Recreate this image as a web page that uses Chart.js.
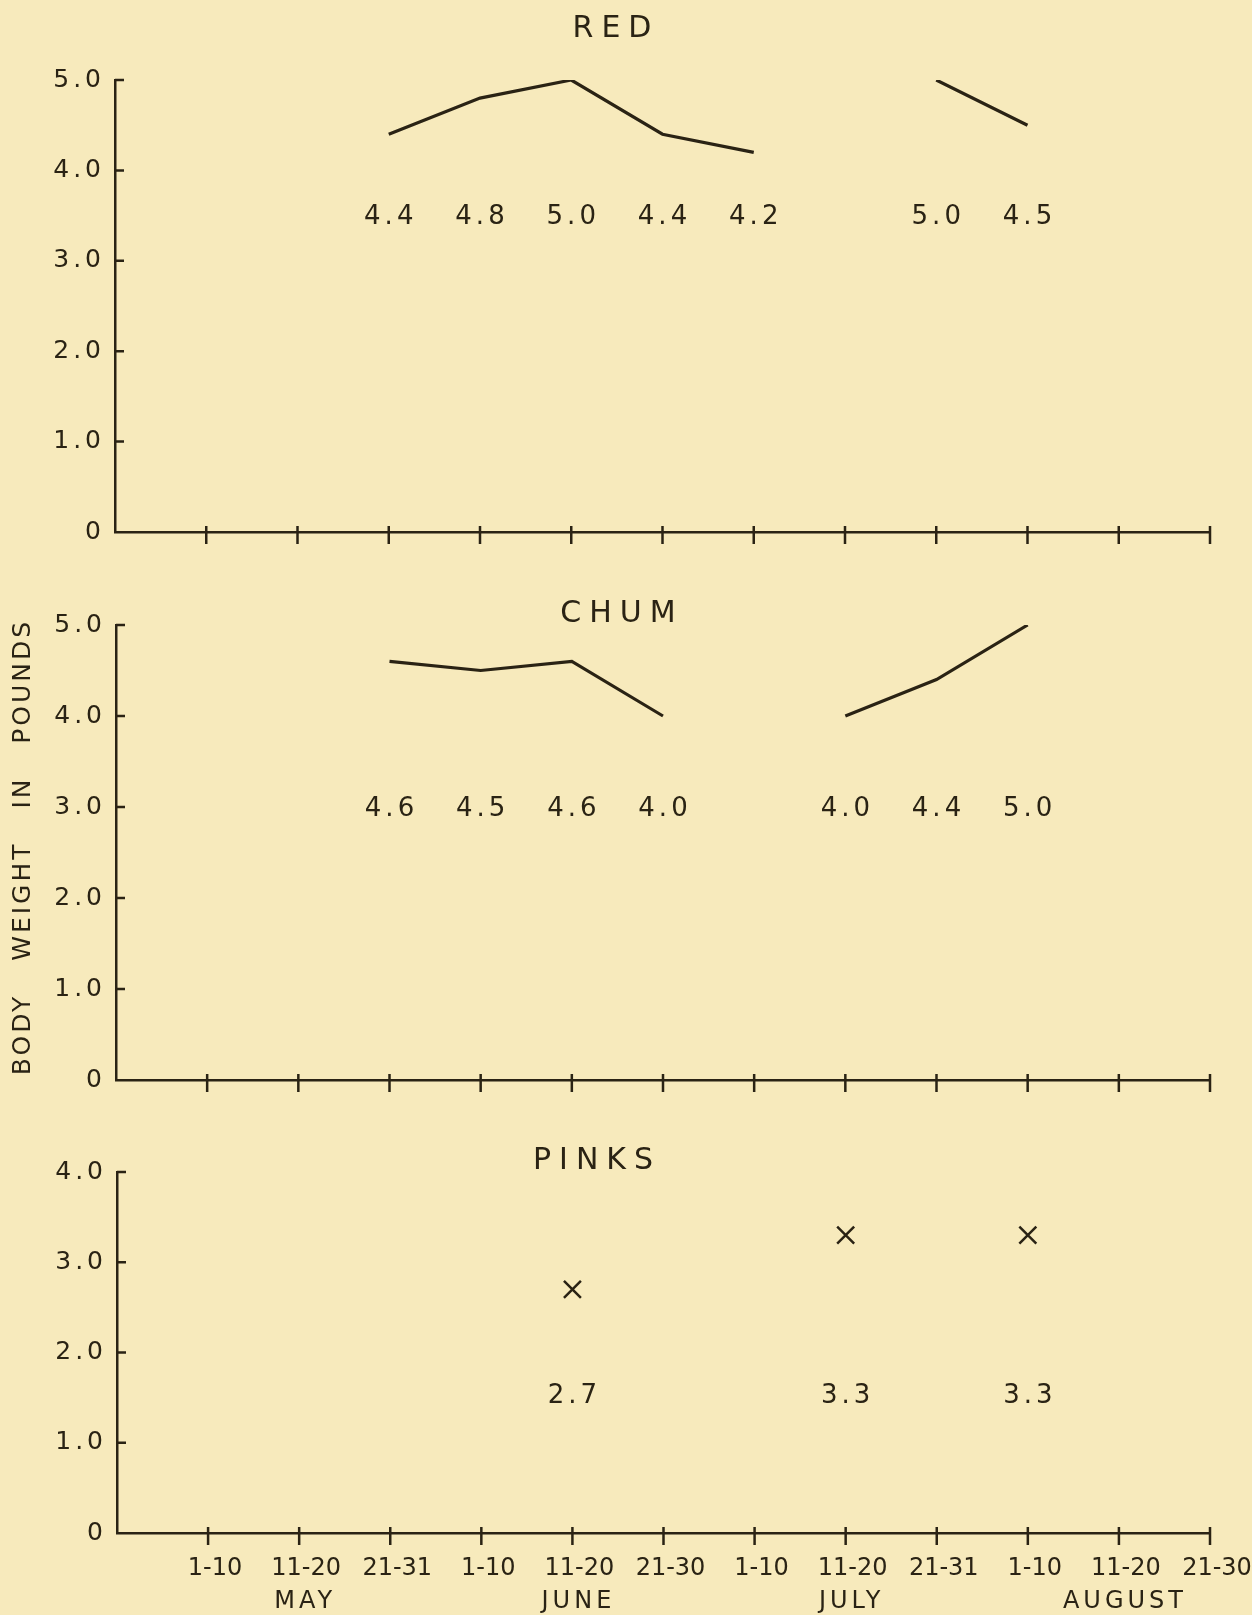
<!DOCTYPE html>
<html><head><meta charset="utf-8">
<script src="https://cdn.jsdelivr.net/npm/chart.js@4.4.0/dist/chart.umd.min.js"></script>
<style>
html,body{margin:0;padding:0;background:#f7eabc;}
body{width:1252px;height:1615px;position:relative;overflow:hidden;}
canvas{position:absolute;left:0;}
</style></head><body>
<canvas id="c1" width="1252" height="560" style="top:0px"></canvas>
<canvas id="c2" width="1252" height="540" style="top:560px"></canvas>
<canvas id="c3" width="1252" height="515" style="top:1100px"></canvas>
<script>
// ---- data ----
const periods = ['1-10','11-20','21-31','1-10','11-20','21-30','1-10','11-20','21-31','1-10','11-20','21-30'];
const months = ['MAY','JUNE','JULY','AUGUST'];
const monthUnderPeriod = [1, 4, 7, 10]; // index into periods
const redWeights  = [null,null,4.4,4.8,5.0,4.4,4.2,null,5.0,4.5,null,null];
const chumWeights = [null,null,4.6,4.5,4.6,4.0,null,4.0,4.4,5.0,null,null];
const pinkWeights = [null,null,null,null,2.7,null,null,3.3,null,3.3,null,null];
const yTicksFive = ['0','1.0','2.0','3.0','4.0','5.0'];
const yTicksFour = ['0','1.0','2.0','3.0','4.0'];
const yAxisTitle = 'BODY   WEIGHT   IN   POUNDS';

const ink = '#2a2314';
const FONT = '"DejaVu Sans", sans-serif';

const decor = {
  id: 'decor',
  beforeDraw(chart){ chart.ctx.letterSpacing = '4px'; },
  afterDatasetsDraw(chart){ chart.ctx.letterSpacing = '0px'; },
  afterDraw(chart, args, o){
    const {ctx, chartArea, scales:{x, y}} = chart;
    ctx.save();
    ctx.strokeStyle = ink; ctx.lineWidth = 2.5; ctx.lineCap = 'butt';
    ctx.beginPath();
    for (let i = 1; i < chart.data.labels.length; i++){
      const px = x.getPixelForValue(i);
      ctx.moveTo(px, chartArea.bottom - 6); ctx.lineTo(px, chartArea.bottom + 12);
    }
    y.ticks.forEach(t => {
      if (t.value === 0) return;
      const py = y.getPixelForValue(t.value);
      ctx.moveTo(chartArea.left, py); ctx.lineTo(chartArea.left + 9, py);
    });
    ctx.stroke();
    ctx.fillStyle = ink; ctx.textAlign = 'center'; ctx.textBaseline = 'middle';
    ctx.font = '30px ' + FONT; ctx.letterSpacing = '8px';
    ctx.fillText(o.title, o.titleX, o.titleY);
    if (o.showValues){
      ctx.font = '26px ' + FONT; ctx.letterSpacing = '4px';
      const ly = y.getPixelForValue(o.valueLevel);
      chart.data.datasets[0].data.forEach((v, i) => {
        if (v == null) return;
        ctx.fillText(v.toFixed(1), x.getPixelForValue(i) + 2, ly);
      });
    }
    if (o.showMonths){
      ctx.font = '24px ' + FONT; ctx.letterSpacing = '4px';
      months.forEach((m, k) => {
        ctx.fillText(m, x.getPixelForValue(monthUnderPeriod[k] + 1) + 6, o.monthY);
      });
    }
    if (o.yTitle){
      ctx.font = '25px ' + FONT; ctx.letterSpacing = '3px';
      ctx.translate(o.yTitleX, o.yTitleY); ctx.rotate(-Math.PI/2);
      ctx.fillText(o.yTitle, 0, 0);
    }
    ctx.restore();
  }
};

function makePanel(id, cfg){
  const labels = [''].concat(periods);
  const data = [null].concat(cfg.values);
  const ds = cfg.markers ? {
      data, showLine:false, pointStyle:'crossRot', pointRadius:12, pointBorderWidth:2.5,
      pointBorderColor: ink, pointBackgroundColor: ink
    } : {
      data, borderColor: ink, borderWidth: 3.2, pointRadius: 0, tension: 0, spanGaps: false
    };
  return new Chart(document.getElementById(id), {
    type: 'line',
    data: { labels, datasets: [ds] },
    plugins: [decor],
    options: {
      responsive: false, animation: false, devicePixelRatio: 1,
      events: [],
      layout: { padding: { top: cfg.padTop, right: 42, left: 0, bottom: 0 } },
      plugins: {
        legend: { display: false }, tooltip: { enabled: false }, title: { display: false },
        decor: cfg.decor
      },
      scales: {
        x: {
          type: 'category', offset: false,
          grid: { display: true, drawOnChartArea: false, drawTicks: false, color: 'rgba(0,0,0,0)' },
          border: { display: true, color: ink, width: 2.5 },
          afterFit(s){ s.height = cfg.xHeight; s.paddingLeft = 0; s.paddingRight = 0; },
          ticks: cfg.xTicks ? {
            display: true, autoSkip: false, maxRotation: 0, minRotation: 0, padding: 19, z: 1,
            labelOffset: 7,
            color: ink, font: { family: FONT, size: 24, lineHeight: 34/24 },
            callback(v, i){ return i === 0 ? '' : periods[i-1]; }
          } : { display: false }
        },
        y: {
          min: 0, max: cfg.yTickLabels.length - 1,
          grid: { display: true, drawOnChartArea: false, drawTicks: false, color: 'rgba(0,0,0,0)' },
          border: { display: true, color: ink, width: 2.5 },
          afterFit(s){ s.width = cfg.yWidth; s.paddingTop = 0; s.paddingBottom = 0; },
          ticks: {
            stepSize: 1, padding: 10, color: ink, z: 0,
            font: { family: FONT, size: 25 },
            callback(v){ return cfg.yTickLabels[v]; }
          }
        }
      }
    }
  });
}

makePanel('c1', {
  values: redWeights, padTop: 80, xHeight: 28, yWidth: 115, yTickLabels: yTicksFive,
  decor: { title: 'RED', titleX: 616, titleY: 29, showValues: true, valueLevel: 3.48 }
});
makePanel('c2', {
  values: chumWeights, padTop: 65, xHeight: 20, yWidth: 116, yTickLabels: yTicksFive,
  decor: { title: 'CHUM', titleX: 622, titleY: 54, showValues: true, valueLevel: 2.97,
           yTitle: yAxisTitle, yTitleX: 23, yTitleY: 287 }
});
makePanel('c3', {
  values: pinkWeights, padTop: 72, xHeight: 82, yWidth: 117, yTickLabels: yTicksFour, markers: true,
  xTicks: true,
  decor: { title: 'PINKS', titleX: 597, titleY: 61, showValues: true, valueLevel: 1.51,
           showMonths: true, monthY: 502 }
});
</script>
</body></html>
